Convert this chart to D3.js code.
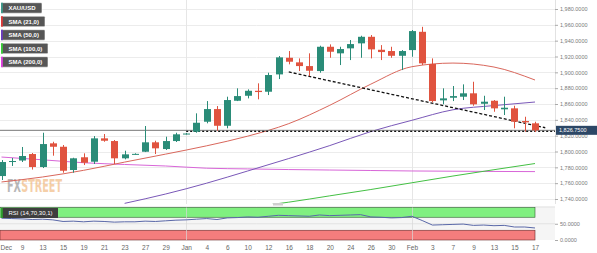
<!DOCTYPE html>
<html>
<head>
<meta charset="utf-8">
<script src="https://cdn.jsdelivr.net/npm/d3@7"></script>
<style>
body { margin: 0; background: #fff; }
svg { display: block; font-family: "Liberation Sans", Arial, sans-serif; }
</style>
</head>
<body>
<script>
// x axis labels, one on every second candle
const labels = ["Dec","9","13","15","19","21","23","27","29","Jan","4","6","10","12","16","18","20","24","26","30","Feb","3","7","9","13","15","17"]

const open  = [1769.0,1786.7,1788.6,1796.8,1780.4,1810.3,1806.0,1776.6,1792.7,1787.1,1816.6,1813.2,1791.4,1796.8,1799.7,1811.6,1803.1,1813.2,1822.4,1825.0,1837.6,1853.6,1832.5,1864.1,1870.4,1876.7,1875.5,1897.4,1918.4,1912.6,1907.9,1901.6,1932.3,1924.0,1930.3,1936.6,1944.9,1928.5,1926.9,1920.9,1928.1,1951.2,1910.5,1864.6,1867.9,1869.2,1873.5,1860.3,1864.1,1853.3,1854.5,1838.5,1835.6]
const high  = [1789.2,1791.8,1805.7,1798.1,1823.7,1812.3,1808.2,1792.1,1797.7,1819.5,1822.1,1814.5,1801.0,1797.7,1832.2,1813.6,1818.7,1823.7,1823.3,1848.2,1863.7,1857.4,1869.2,1879.8,1878.5,1886.1,1899.5,1920.6,1926.9,1917.6,1924.0,1933.6,1935.3,1932.3,1940.8,1946.2,1947.1,1934.4,1932.3,1928.1,1953.4,1957.5,1917.6,1879.8,1882.7,1884.8,1888.1,1870.4,1865.0,1869.2,1857.8,1843.9,1837.6]
const low   = [1764.0,1781.7,1786.7,1777.2,1779.1,1794.7,1773.2,1773.2,1782.9,1784.2,1812.3,1784.2,1790.1,1796.2,1799.3,1796.8,1801.9,1812.0,1821.4,1823.7,1835.6,1826.2,1829.3,1863.7,1867.1,1865.9,1871.3,1891.5,1910.1,1901.6,1895.3,1899.5,1918.4,1909.2,1915.5,1918.4,1917.6,1915.5,1918.4,1902.9,1919.7,1909.2,1862.1,1859.6,1863.7,1865.0,1857.8,1852.4,1850.2,1846.1,1829.3,1825.0,1824.6]
const close = [1786.7,1788.0,1794.3,1780.4,1809.4,1806.0,1775.7,1791.4,1785.8,1816.6,1813.6,1791.4,1796.4,1797.0,1811.6,1804.0,1813.2,1821.7,1822.7,1836.3,1853.6,1832.5,1865.0,1870.0,1876.7,1875.1,1896.6,1918.9,1913.4,1907.9,1902.0,1932.3,1926.0,1929.4,1935.7,1944.9,1929.0,1925.6,1920.9,1926.9,1952.1,1911.3,1863.7,1867.1,1870.0,1873.5,1859.6,1862.9,1854.5,1855.3,1837.6,1836.8,1826.75]

// moving averages, read at every fourth candle
const sma21Idx = [0,4,8,12,16,20,24,28,32,36,40,44,48,52]
const sma21 = [1761.5,1767.8,1776.2,1786.6,1796.7,1807.2,1819.4,1835.2,1858.4,1885.1,1907.1,1911.7,1906.7,1890.3]
const sma50Idx = [12,16,20,24,28,32,36,40,44,48,52]
const sma50 = [1734.5,1746.3,1760.0,1775.4,1791.1,1807.5,1825.2,1839.4,1852.7,1858.0,1862.5]
const sma100Idx = [26,28,32,36,40,44,48,52]
const sma100 = [1732.5,1736.0,1744.0,1752.0,1760.5,1769.0,1777.0,1784.8]
const sma200Idx = [0,4,8,12,16,20,24,28,32,36,40,44,48,52]
const sma200 = [1793.0,1789.5,1785.8,1783.6,1781.7,1778.9,1778.0,1777.2,1776.6,1776.0,1775.4,1775.1,1774.8,1774.6]

const rsi = [67,66,65,63,64,62,57,58,56,58,57,55,56,56,58,57,59,61,62,64,66,63,68,69,71,70,73,76,75,74,73,77,75,76,77,78,71,70,68,69,73,60,46,47,48,49,45,46,44,45,40,40,37]

const priceTicks = [1740,1760,1780,1800,1820,1840,1860,1880,1900,1920,1940,1960,1980]
const rsiTicks = [0, 50]
const lastPrice = 1826.75
const support = 1825.5
const trend = [[28, 1900.5], [53, 1830]]

const legend = [
    { name: "XAU/USD", color: "#3d9b8c", w: 41 },
    { name: "SMA (21,0)", color: "#e03a3a", w: 44 },
    { name: "SMA (50,0)", color: "#6a3cc0", w: 44 },
    { name: "SMA (100,0)", color: "#3ad03a", w: 47 },
    { name: "SMA (200,0)", color: "#e040e0", w: 47 }
]

const m = {
    width: 597,
    height: 253,
    right: 555,
    mainBottom: 204,
    rsiTop: 207.5,
    rsiBottom: 240
}

const up = "#2a8c78"
const down = "#e0533f"

const svg = d3.select("body").append("svg")
    .attr("width", m.width)
    .attr("height", m.height)

const x = d3.scaleLinear().domain([0, 52]).range([1.5, 535])
const y = d3.scaleLinear().domain([1740, 1980]).range([199, 9])
const yR = d3.scaleLinear().domain([0, 100]).range([m.rsiBottom, m.rsiTop])

svg.append("clipPath").attr("id", "clipMain")
    .append("rect").attr("x", 0).attr("y", 0).attr("width", m.right).attr("height", m.mainBottom)

// grid
svg.append("g").selectAll("line")
    .data(priceTicks)
    .enter().append("line")
    .attr("x1", 0).attr("x2", m.right)
    .attr("y1", d => Math.round(y(d)) + 0.5).attr("y2", d => Math.round(y(d)) + 0.5)
    .attr("stroke", "#ececec")

svg.append("g").selectAll("line")
    .data([18, 40])
    .enter().append("line")
    .attr("x1", d => Math.round(x(d)) + 0.5).attr("x2", d => Math.round(x(d)) + 0.5)
    .attr("y1", 0).attr("y2", m.mainBottom)
    .attr("stroke", "#e6e6e6")

svg.append("line")
    .attr("x1", m.right + 0.5).attr("x2", m.right + 0.5)
    .attr("y1", 0).attr("y2", m.mainBottom)
    .attr("stroke", "#e2e2e2")

// watermark, squeezed horizontally so it spans about 55px
const wm = svg.append("g")
    .attr("font-family", "'Liberation Sans Narrow', 'DejaVu Sans Condensed', sans-serif")
    .attr("font-weight", "bold")
    .attr("font-size", 18)
    .attr("opacity", 0.6)
const fx = wm.append("text").attr("x", 0).attr("y", 0).attr("fill", "#8a8a8a").text("FX")
const fxw = fx.node().getComputedTextLength()
const st = wm.append("text").attr("x", fxw + 0.5).attr("y", 0).attr("fill", "#f0b070").text("STREET")
const total = fxw + 0.5 + st.node().getComputedTextLength()
wm.attr("transform", `translate(7,192) scale(${55 / total},1)`)

const main = svg.append("g").attr("clip-path", "url(#clipMain)")

const line = d3.line()
    .x(d => x(d[0]))
    .y(d => y(d[1]))
    .curve(d3.curveMonotoneX)

const smas = [
    { idx: sma200Idx, vals: sma200, color: "#d866d8" },
    { idx: sma100Idx, vals: sma100, color: "#44c044" },
    { idx: sma50Idx, vals: sma50, color: "#7a58b8" },
    { idx: sma21Idx, vals: sma21, color: "#d9675c" }
]

main.selectAll(".sma")
    .data(smas)
    .enter().append("path")
    .attr("class", "sma")
    .attr("fill", "none")
    .attr("stroke", d => d.color)
    .attr("stroke-width", 1)
    .attr("d", d => line(d.idx.map((k, i) => [k, d.vals[i]])))

// price line and support line
main.append("line")
    .attr("x1", 0).attr("x2", m.right)
    .attr("y1", y(lastPrice)).attr("y2", y(lastPrice))
    .attr("stroke", "#777")
    .attr("stroke-width", 1)

main.append("line")
    .attr("x1", x(18)).attr("x2", m.right)
    .attr("y1", y(support)).attr("y2", y(support))
    .attr("stroke", "#111")
    .attr("stroke-width", 1.3)
    .attr("stroke-dasharray", "2,2")

main.append("path")
    .attr("fill", "none")
    .attr("stroke", "#111")
    .attr("stroke-width", 1.3)
    .attr("stroke-dasharray", "3,2")
    .attr("d", d3.line().x(d => x(d[0])).y(d => y(d[1]))(trend))

// candles
const candles = main.selectAll(".candle")
    .data(open.map((o, i) => ({ i: i, o: o, h: high[i], l: low[i], c: close[i] })))
    .enter().append("g")
    .attr("class", "candle")

candles.append("line")
    .attr("x1", d => Math.round(x(d.i)) + 0.5).attr("x2", d => Math.round(x(d.i)) + 0.5)
    .attr("y1", d => y(d.h)).attr("y2", d => y(d.l))
    .attr("stroke", d => d.c >= d.o ? up : down)
    .attr("stroke-width", 1)

candles.append("rect")
    .attr("x", d => Math.round(x(d.i)) - 3)
    .attr("width", 7)
    .attr("y", d => y(Math.max(d.o, d.c)))
    .attr("height", d => Math.max(1, Math.abs(y(d.o) - y(d.c))))
    .attr("fill", d => d.c >= d.o ? up : down)

// scrollbar handle
svg.append("rect")
    .attr("x", 273).attr("y", 203).attr("width", 10).attr("height", 2.5)
    .attr("fill", "#cfcfcf")

// right axis
const yAxis = svg.append("g")
    .attr("transform", `translate(${m.right},0)`)
    .call(d3.axisRight(y).tickValues(priceTicks).tickSize(3).tickPadding(2).tickFormat(d3.format(",.4f")))
yAxis.select(".domain").remove()
yAxis.selectAll("line").attr("stroke", "#aaa")
yAxis.selectAll("text").attr("fill", "#7a7a7a").attr("font-size", 5.5).attr("font-family", "'Liberation Sans', Arial, sans-serif")

// price label
svg.append("rect")
    .attr("x", 556).attr("y", y(lastPrice) - 4.5)
    .attr("width", 41).attr("height", 9)
    .attr("fill", "#2c4766")
svg.append("text")
    .attr("x", 559).attr("y", y(lastPrice) + 2)
    .attr("fill", "#fff")
    .attr("font-size", 5.5)
    .text(d3.format(",.4f")(lastPrice))

// legend
const lg = svg.selectAll(".legend")
    .data(legend)
    .enter().append("g")
    .attr("class", "legend")
    .attr("transform", (d, i) => `translate(1,${2.7 + i * 13.5})`)

lg.append("rect")
    .attr("width", d => d.w).attr("height", 10.5)
    .attr("rx", 1)
    .attr("fill", "#565656")
    .attr("stroke", "#fff")
    .attr("stroke-width", 0.6)
lg.append("rect")
    .attr("width", 1.8).attr("height", 10.5)
    .attr("fill", d => d.color)
lg.append("text")
    .attr("x", 7.5).attr("y", 7.4)
    .attr("fill", "#fff")
    .attr("font-size", 6)
    .attr("font-weight", "bold")
    .text(d => d.name)

// RSI panel
svg.append("rect")
    .attr("x", 0).attr("y", m.rsiTop)
    .attr("width", m.right).attr("height", m.rsiBottom - m.rsiTop)
    .attr("fill", "#f5f5f5")
svg.append("line")
    .attr("x1", 0).attr("x2", m.right)
    .attr("y1", m.rsiTop - 0.5).attr("y2", m.rsiTop - 0.5)
    .attr("stroke", "#dcdcdc")

svg.append("rect")
    .attr("x", 0).attr("y", yR(100))
    .attr("width", x(52)).attr("height", yR(70) - yR(100))
    .attr("fill", "#80f080")
    .attr("stroke", "#2f5f2f").attr("stroke-width", 0.6)
svg.append("rect")
    .attr("x", 0).attr("y", yR(30))
    .attr("width", x(52)).attr("height", yR(0) - yR(30))
    .attr("fill", "#f47d7d")
    .attr("stroke", "#6a2a2a").attr("stroke-width", 0.6)

svg.append("line")
    .attr("x1", 0).attr("x2", m.right)
    .attr("y1", yR(50)).attr("y2", yR(50))
    .attr("stroke", "#e2e2e2")

svg.append("g").selectAll("line")
    .data([18, 40])
    .enter().append("line")
    .attr("x1", d => Math.round(x(d)) + 0.5).attr("x2", d => Math.round(x(d)) + 0.5)
    .attr("y1", m.rsiTop).attr("y2", m.rsiBottom)
    .attr("stroke", "#d8d8d8")
    .attr("opacity", 0.7)

svg.append("path")
    .attr("fill", "none")
    .attr("stroke", "#5a68a8")
    .attr("stroke-width", 1)
    .attr("d", d3.line().x((d, i) => x(i)).y(d => yR(d))(rsi))

const rl = svg.append("g").attr("transform", `translate(1,${m.rsiTop + 0.5})`)
rl.append("rect").attr("width", 57).attr("height", 10).attr("fill", "#3e3e3e")
rl.append("rect").attr("width", 1.8).attr("height", 10).attr("fill", "#2ea02e")
rl.append("text")
    .attr("x", 7.5).attr("y", 7)
    .attr("fill", "#fff")
    .attr("font-size", 6)
    .text("RSI (14,70,30,1)")

const rAxis = svg.append("g")
    .attr("transform", `translate(${m.right},0)`)
    .call(d3.axisRight(yR).tickValues(rsiTicks).tickSize(3).tickPadding(2).tickFormat(d3.format(".4f")))
rAxis.select(".domain").remove()
rAxis.selectAll("line").attr("stroke", "#aaa")
rAxis.selectAll("text").attr("fill", "#7a7a7a").attr("font-size", 5.5).attr("font-family", "'Liberation Sans', Arial, sans-serif")

// bottom axis
const xAxis = svg.append("g")
    .attr("transform", `translate(0,${m.rsiBottom + 1})`)
    .call(d3.axisBottom(x).tickValues(d3.range(0, 53, 2)).tickSize(0).tickPadding(4).tickFormat(d => labels[d / 2]))
xAxis.select(".domain").remove()
xAxis.selectAll("text").attr("fill", "#666").attr("font-size", 6.5).attr("font-family", "'Liberation Sans', Arial, sans-serif")
// first label starts at the left edge instead of being cut
xAxis.selectAll("text").filter(d => d === 0).attr("text-anchor", "start").attr("x", -1.5)
</script>
</body>
</html>
